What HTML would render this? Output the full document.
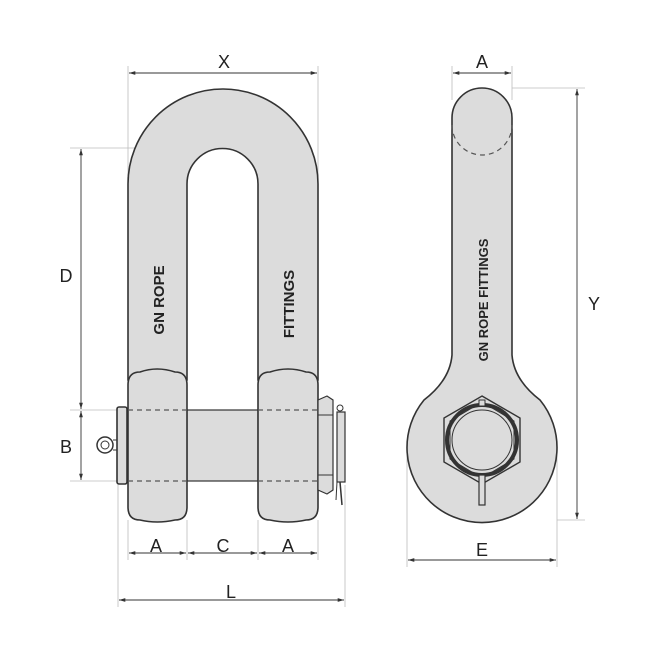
<!DOCTYPE html>
<html><head><style>body{margin:0;background:#fff}svg{display:block}text{font-family:"Liberation Sans",sans-serif;fill:#222}</style></head><body>
<svg width="650" height="650" viewBox="0 0 650 650" xmlns="http://www.w3.org/2000/svg">
<defs><marker id="a" viewBox="0 0 10 10" refX="10" refY="5" markerWidth="7" markerHeight="7" orient="auto-start-reverse"><path d="M0,2L10,5L0,8z" fill="#333"/></marker></defs>
<g stroke="#bbb" stroke-width="0.8" fill="none">
<line x1="128" y1="66" x2="128" y2="180"/><line x1="318" y1="66" x2="318" y2="180"/>
<line x1="70" y1="148" x2="210" y2="148"/>
<line x1="70" y1="410" x2="120" y2="410"/><line x1="70" y1="481" x2="120" y2="481"/>
<line x1="452" y1="66" x2="452" y2="100"/><line x1="512" y1="66" x2="512" y2="100"/>
<line x1="512" y1="88" x2="585" y2="88"/><line x1="557" y1="520" x2="585" y2="520"/>
<line x1="128" y1="520" x2="128" y2="560"/><line x1="187" y1="520" x2="187" y2="560"/><line x1="258" y1="520" x2="258" y2="560"/><line x1="318" y1="520" x2="318" y2="560"/>
<line x1="118" y1="485" x2="118" y2="607"/><line x1="345" y1="485" x2="345" y2="607"/>
<line x1="407" y1="450" x2="407" y2="567"/><line x1="557" y1="450" x2="557" y2="567"/>
</g>
<g stroke="#333" stroke-width="0.9" marker-start="url(#a)" marker-end="url(#a)">
<line x1="129" y1="73" x2="317" y2="73"/>
<line x1="453" y1="73" x2="511" y2="73"/>
<line x1="81" y1="149" x2="81" y2="409"/>
<line x1="81" y1="411" x2="81" y2="480"/>
<line x1="577" y1="89" x2="577" y2="519"/>
<line x1="129" y1="553" x2="186" y2="553"/><line x1="188" y1="553" x2="257" y2="553"/><line x1="259" y1="553" x2="317" y2="553"/>
<line x1="119" y1="600" x2="344" y2="600"/>
<line x1="408" y1="560" x2="556" y2="560"/>
</g>
<g font-size="18" text-anchor="middle">
<text x="224" y="68">X</text><text x="482" y="68">A</text>
<text x="66" y="282">D</text><text x="66" y="453">B</text><text x="594" y="310">Y</text>
<text x="156" y="552">A</text><text x="223" y="552">C</text><text x="288" y="552">A</text>
<text x="231" y="598">L</text><text x="482" y="556">E</text>
</g>
<g fill="#dcdcdc" stroke="#333" stroke-width="1.6">
<path d="M128,380 L128,184 A95,95 0 0 1 318,184 L318,380 L258,380 L258,184 A35.5,35.5 0 0 0 187,184 L187,380 Z"/>
<rect x="117" y="407" width="10" height="77" rx="2"/>
<rect x="187" y="410" width="71" height="71" stroke-width="1.2"/>
<path d="M128,385 Q128,372 140,372 Q157,366 175,372 Q187,372 187,385 L187,507 Q187,520 175,520 Q157,524 140,520 Q128,520 128,507 Z"/>
<path d="M258,385 Q258,372 270,372 Q288,366 306,372 Q318,372 318,385 L318,507 Q318,520 306,520 Q288,524 270,520 Q258,520 258,507 Z"/>
<path d="M318,400 L327,396 L333,400 L333,490 L327,494 L318,490 Z" stroke-width="1.2"/>
<rect x="337" y="412" width="8" height="70" stroke-width="1.2"/>
<path d="M452,118 A30,30 0 0 1 512,118 L512,355 Q514,380 540,400 A75,75 0 1 1 424,400 Q450,380 452,355 Z"/>
</g>
<g fill="none" stroke="#555" stroke-width="1.2" stroke-dasharray="5,4">
<line x1="128" y1="410" x2="187" y2="410"/><line x1="128" y1="481" x2="187" y2="481"/>
<line x1="258" y1="410" x2="318" y2="410"/><line x1="258" y1="481" x2="318" y2="481"/>
<path d="M452,125 A30,30 0 0 0 512,125"/>
</g>
<g fill="none" stroke="#333">
<circle cx="105" cy="445" r="8" stroke-width="1.5"/><circle cx="105" cy="445" r="4" stroke-width="1"/>
<line x1="113" y1="440" x2="117" y2="440"/><line x1="113" y1="450" x2="117" y2="450"/>
<line x1="318" y1="415" x2="333" y2="415"/><line x1="318" y1="475" x2="333" y2="475"/>
<line x1="340" y1="482" x2="342" y2="505" stroke-width="1.5"/><line x1="337" y1="482" x2="336" y2="500"/>
<circle cx="340" cy="408" r="3"/>
<polygon points="482,396 520,418 520,462 482,484 444,462 444,418" stroke-width="1.4"/>
<polygon points="482,402 514,421 514,459 482,478 450,459 450,421" stroke-width="1"/>
<circle cx="482" cy="440" r="35" stroke-width="4"/>
<circle cx="482" cy="440" r="30" stroke-width="1"/>
<rect x="479" y="400" width="6" height="6" fill="#dcdcdc"/>
<rect x="479" y="475" width="6" height="30" fill="#dcdcdc" stroke-width="1.2"/>
</g>
<g font-size="15" font-weight="bold" text-anchor="middle" style="fill:#333">
<text transform="translate(164,300) rotate(-90)">GN ROPE</text>
<text transform="translate(294,304) rotate(-90)">FITTINGS</text>
<text transform="translate(488,300) rotate(-90)" font-size="13">GN ROPE FITTINGS</text>
</g>
</svg>
</body></html>
